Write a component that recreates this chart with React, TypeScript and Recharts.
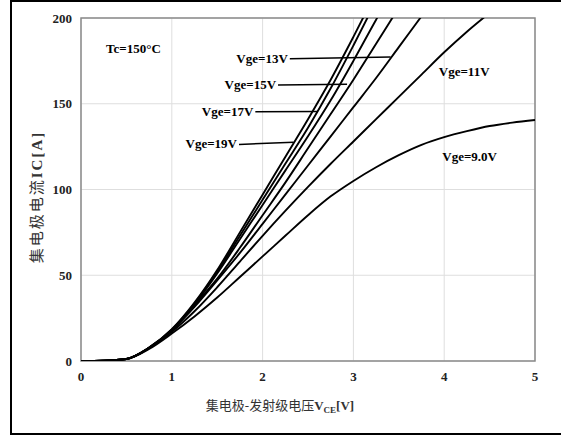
import {
  CartesianGrid,
  Line,
  LineChart,
  ReferenceArea,
  ReferenceDot,
  ReferenceLine,
  XAxis,
  YAxis,
} from "recharts";

// collector-emitter voltage grid [V]
const VCE = [0, 0.25, 0.5, 0.75, 1, 1.25, 1.5, 1.75, 2, 2.25, 2.5, 2.75, 3, 3.25, 3.5, 3.75, 4, 4.25, 4.5, 4.75, 5];

// collector current [A] per gate voltage curve (null = off the top of the chart)
const IC_19V = [0, 0.2, 1.2, 7.8, 18.5, 34, 53, 75, 97, 119, 141, 164, 189, 215, null, null, null, null, null, null, null];
const IC_18V = [0, 0.2, 1.2, 7.8, 18.3, 33.5, 52, 73, 94, 115, 136, 159, 184, 210, null, null, null, null, null, null, null];
const IC_17V = [0, 0.2, 1.2, 7.7, 18, 33, 51, 71, 91, 111, 131, 152, 175, 199, 222, null, null, null, null, null, null];
const IC_15V = [0, 0.2, 1.2, 7.6, 18, 32.5, 48, 66, 85, 104, 124, 144, 164, 185, 206, null, null, null, null, null, null];
const IC_13V = [0, 0.2, 1.2, 7.5, 17.8, 31.5, 47, 63, 80, 97, 114, 131, 148, 165, 183, 201, null, null, null, null, null];
const IC_11V = [0, 0.2, 1.2, 7.5, 17, 29, 43, 58, 73, 87.5, 101.5, 115, 128, 141, 154, 167, 180, 192, 203, null, null];
const IC_9V = [0, 0.2, 1.1, 7, 16, 26, 37, 49, 61, 73, 85, 96, 105, 113, 120, 126, 130.5, 134, 137, 139, 140.5];

const SERIES: [string, (number | null)[]][] = [
  ["vge19", IC_19V],
  ["vge18", IC_18V],
  ["vge17", IC_17V],
  ["vge15", IC_15V],
  ["vge13", IC_13V],
  ["vge11", IC_11V],
  ["vge9", IC_9V],
];

const X_TICKS = [0, 1, 2, 3, 4, 5];
const Y_TICKS = [0, 50, 100, 150, 200];

const data = VCE.map((v, i) => {
  const row: Record<string, number | null> = { vce: v };
  for (const [key, vals] of SERIES) row[key] = vals[i];
  return row;
});

// callouts: label text, then leader from (x1,y1) to the curve at (x2,y2)
const LEADERS = [
  { text: "Vge=13V", x1: 2.3, y1: 176.2, x2: 3.41, y2: 177.2 },
  { text: "Vge=15V", x1: 2.17, y1: 161, x2: 2.93, y2: 161.3 },
  { text: "Vge=17V", x1: 1.92, y1: 145.3, x2: 2.61, y2: 145.5 },
  { text: "Vge=19V", x1: 1.74, y1: 126.3, x2: 2.34, y2: 127.6 },
];

const NOTES = [
  { text: "Tc=150°C", x: 0.578, y: 182.2 },
  { text: "Vge=11V", x: 4.22, y: 169 },
  { text: "Vge=9.0V", x: 4.28, y: 119.3 },
];

const FONT = "'Times New Roman', 'Liberation Serif', 'Noto Sans CJK SC', serif";

const tickStyle = { fill: "#222", fontSize: 13, fontWeight: 700, fontFamily: FONT };

export default function App() {
  return (
    <div
      style={{
        position: "absolute",
        left: 0,
        top: 0,
        width: 561,
        height: 440,
        overflow: "hidden",
        background: "#fff",
      }}
    >
      <div
        style={{
          position: "absolute",
          left: 10,
          top: 0,
          width: 580,
          height: 431,
          border: "2px solid #000",
        }}
      />
      <div style={{ position: "absolute", left: 0, top: 0 }}>
        <LineChart
          width={561}
          height={440}
          data={data}
          margin={{ top: 18, right: 26, left: 21, bottom: 9 }}
        >
          <CartesianGrid stroke="#dedede" strokeWidth={1} />
          <XAxis
            dataKey="vce"
            type="number"
            domain={[0, 5]}
            ticks={X_TICKS}
            axisLine={false}
            tickLine={false}
            tickSize={0}
            tickMargin={11}
            height={70}
            tick={tickStyle}
            label={{
              content: () => (
                <text x={280} y={410} textAnchor="middle" fontSize={13} fill="#333" fontFamily={FONT}>
                  集电极-发射级电压
                  <tspan fontWeight={700}>V</tspan>
                  <tspan fontWeight={700} fontSize={9} dy={3}>CE</tspan>
                  <tspan fontWeight={700} dy={-3}>[V]</tspan>
                </text>
              ),
            }}
          />
          <YAxis
            type="number"
            domain={[0, 200]}
            ticks={Y_TICKS}
            allowDataOverflow
            axisLine={false}
            tickLine={false}
            tickSize={0}
            tickMargin={9}
            width={60}
            tick={tickStyle}
            label={{
              content: () => (
                <text
                  x={37}
                  y={197}
                  transform="rotate(-90, 37, 197)"
                  textAnchor="middle"
                  dominantBaseline="central"
                  fontSize={15}
                  letterSpacing={2}
                  fill="#333"
                  fontFamily={FONT}
                >
                  集电极电流<tspan fontWeight={700}>IC[A]</tspan>
                </text>
              ),
            }}
          />
          <ReferenceArea x1={0} x2={5} y1={0} y2={200} fill="none" stroke="#8a8a8a" strokeWidth={1.5} />
          {SERIES.map(([key]) => (
            <Line
              key={key}
              dataKey={key}
              type="monotone"
              stroke="#000"
              strokeWidth={1.9}
              dot={false}
              isAnimationActive={false}
            />
          ))}
          {LEADERS.map((l) => (
            <ReferenceLine
              key={l.text}
              segment={[
                { x: l.x1, y: l.y1 },
                { x: l.x2, y: l.y2 },
              ]}
              stroke="#000"
              strokeWidth={1.5}
              label={{
                value: l.text,
                position: "left",
                offset: 2,
                fill: "#000",
                fontSize: 13,
                fontWeight: 700,
                fontFamily: FONT,
              }}
            />
          ))}
          {NOTES.map((n) => (
            <ReferenceDot
              key={n.text}
              x={n.x}
              y={n.y}
              r={0}
              fill="none"
              stroke="none"
              label={{
                value: n.text,
                position: "center",
                fill: "#000",
                fontSize: 13,
                fontWeight: 700,
                fontFamily: FONT,
              }}
            />
          ))}
        </LineChart>
      </div>
    </div>
  );
}
